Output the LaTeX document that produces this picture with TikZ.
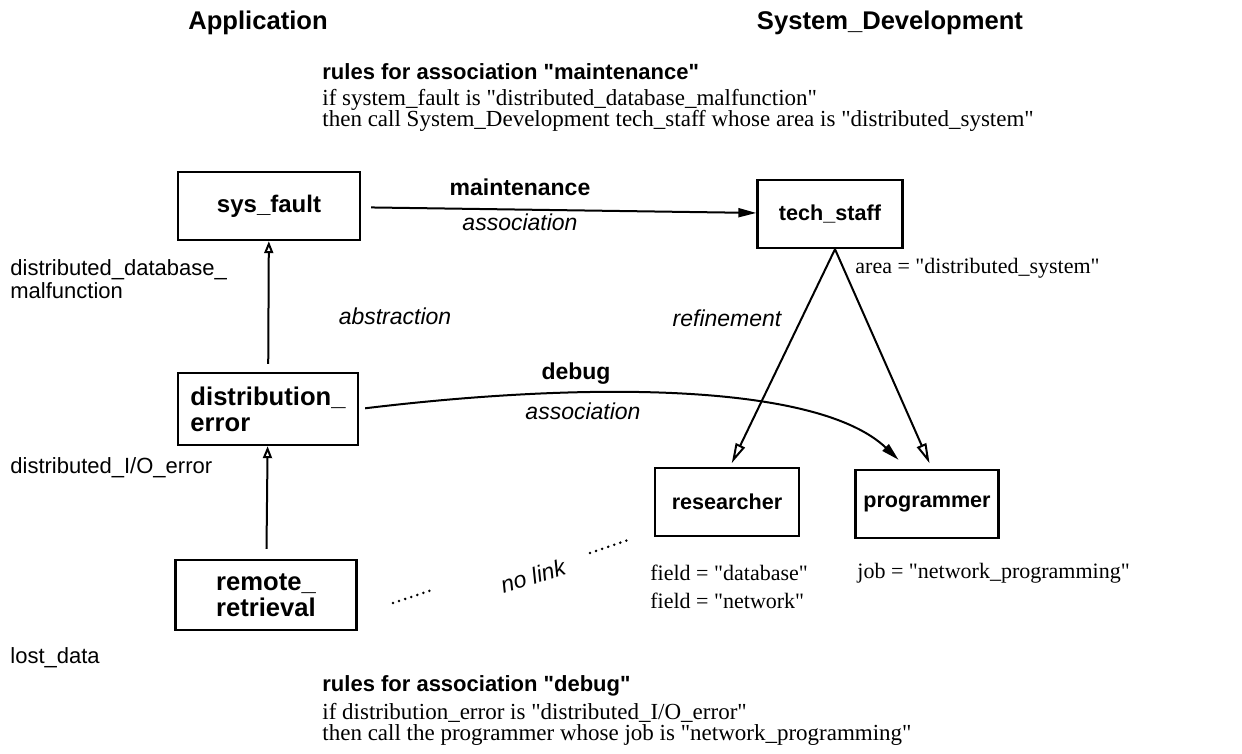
\documentclass[tikz,border=0pt]{standalone}
\usepackage{fontspec}
\setmainfont{Liberation Serif}[Ligatures=TeXOff]
\setsansfont{Liberation Sans}[Ligatures=TeXOff]
\usetikzlibrary{arrows.meta}

\begin{document}
\begin{tikzpicture}[
  x=0.5pt, y=-0.5pt,
  font=\sffamily,
  obj/.style={rectangle, draw=black, line width=1.2pt, fill=white, align=left, inner sep=0pt,
              font=\sffamily\bfseries\fontsize{12}{12.5}\selectfont},
  big/.style={font=\sffamily\bfseries\fontsize{12.8}{13}\selectfont},
  small/.style={font=\sffamily\bfseries\fontsize{10.8}{12}\selectfont},
  hdr/.style={font=\sffamily\bfseries\fontsize{12.8}{14}\selectfont, inner sep=0pt},
  rtitle/.style={font=\sffamily\bfseries\fontsize{11}{13}\selectfont, anchor=west, inner sep=0pt},
  rtext/.style={font=\rmfamily\fontsize{11.5}{10.6}\selectfont, anchor=north west, align=left, inner sep=0pt},
  attr/.style={font=\rmfamily\fontsize{11}{13}\selectfont, anchor=west, inner sep=0pt},
  val/.style={font=\sffamily\fontsize{11}{9.5}\selectfont, anchor=west, align=left, inner sep=0pt},
  rel/.style={font=\sffamily\itshape\fontsize{11.5}{13}\selectfont, inner sep=0pt},
  aname/.style={font=\sffamily\bfseries\fontsize{11.5}{13}\selectfont, inner sep=0pt},
  assoc/.style={-{Triangle[length=9pt,width=4.5pt]}, line width=1pt},
  absarr/.style={-{Triangle[open,length=6pt,width=4.5pt]}, line width=1pt},
  refarr/.style={-{Triangle[open,length=10pt,width=5pt]}, line width=1pt},
  nolink/.style={line width=1.4pt, dash pattern=on 0pt off 3.2pt, line cap=round},
]
\useasboundingbox (0,0) rectangle (1242,754);

% ---------- Headers ----------
\node[hdr] (happ) at (258,23) {Application};
\node[hdr] (hsys) at (890,23) {System\_Development};

% ---------- Rules (maintenance) ----------
\node[rtitle] (r1t) at (322,72) {rules for association "maintenance"};
\node[rtext] (r1) at (322,89)
  {if system\_fault is "distributed\_database\_malfunction"\\
   then call System\_Development tech\_staff whose area is "distributed\_system"};

% ---------- Objects ----------
\node[obj, minimum width=91pt, minimum height=34pt] (fault) at (269,206) {sys\_fault};
\node[obj, big, minimum width=90pt, minimum height=36pt] (dist) at (268,409) {distribution\_\\error};
\node[obj, big, minimum width=90.5pt, minimum height=35pt] (remote) at (266,595) {remote\_\\retrieval};
\node[obj, small, minimum width=72.5pt, minimum height=34pt] (tech) at (830,214) {tech\_staff};
\node[obj, small, minimum width=72pt, minimum height=34pt] (res) at (727,502) {researcher};
\node[obj, small, minimum width=71.5pt, minimum height=34pt] (prog) at (927,504) {programmer};

% ---------- Attribute values ----------
\node[val] (vfault) at (10,279) {distributed\_database\_\\malfunction};
\node[val] (vdist) at (10,468) {distributed\_I/O\_error};
\node[val] (vremote) at (10,658) {lost\_data};
\node[attr] (atech) at (855,268) {area = "distributed\_system"};
\node[attr] (ares1) at (650,573) {field = "database"};
\node[attr] (ares2) at (650,601) {field = "network"};
\node[attr] (aprog) at (857,573) {job = "network\_programming"};

% ---------- Connectors ----------
\draw[assoc, shorten <=5pt] (fault) -- (tech);
\node[aname] (lmaint) at (520,187) {maintenance};
\node[rel] (lassoc1) at (520,222) {association};

\draw[absarr, shorten <=4pt] (dist) -- (fault);
\draw[absarr, shorten <=5pt] (remote) -- (dist);
\node[rel] (labs) at (395,316) {abstraction};

\draw[refarr, shorten >=2pt] ([xshift=2.5pt]tech.south) -- ([xshift=1.5pt]res.north);
\draw[refarr, shorten >=3pt] ([xshift=2.5pt]tech.south) -- ([xshift=2.5pt]prog.north);
\node[rel] (lref) at (727,318) {refinement};

\draw[assoc, shorten <=3pt, shorten >=6.5pt] (dist.east) .. controls (600,380) and (820,385) .. ([xshift=-9.5pt]prog.north);
\node[aname] (ldebug) at (576,374) {debug};
\node[rel] (lassoc2) at (583,411) {association};

% ---------- No link ----------
\coordinate (nl1) at (393,603);
\coordinate (nl2) at (432,590);
\coordinate (nl3) at (590,553);
\coordinate (nl4) at (628,540);
\draw[nolink] (nl1) -- (nl2);
\draw[nolink] (nl3) -- (nl4);
\node[rel, rotate=17] (lnolink) at (533,576) {no link};

% ---------- Rules (debug) ----------
\node[rtitle] (r2t) at (322,686) {rules for association "debug"};
\node[rtext] (r2) at (322,703)
  {if distribution\_error is "distributed\_I/O\_error"\\
   then call the programmer whose job is "network\_programming"};

\end{tikzpicture}
\end{document}
